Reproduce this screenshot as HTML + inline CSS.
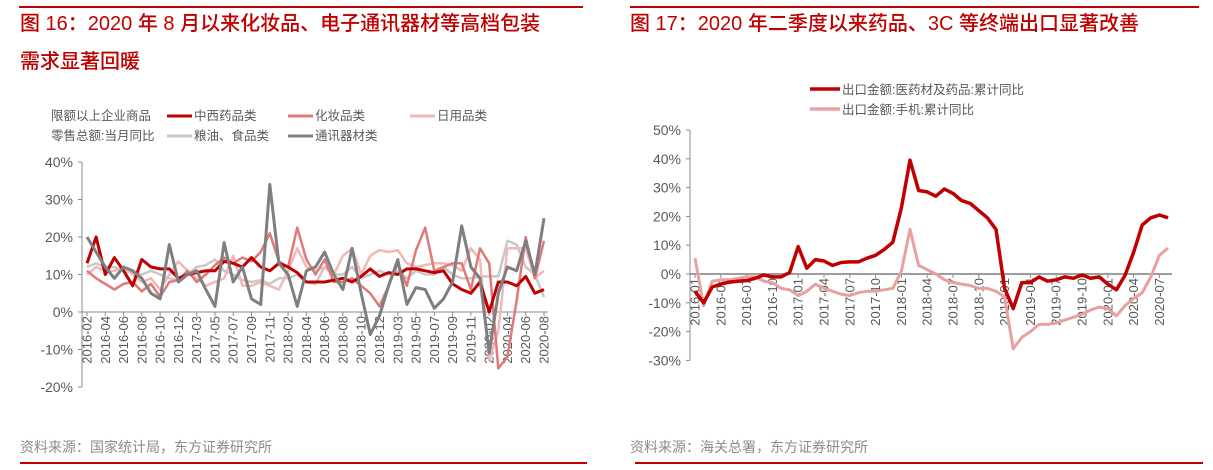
<!DOCTYPE html>
<html><head><meta charset="utf-8"><style>
body{margin:0;background:#fff;width:1213px;height:470px;overflow:hidden;font-family:"Liberation Sans","Noto Sans CJK SC",sans-serif}
svg{position:absolute;left:0;top:0}
</style></head><body>
<svg id="s" width="1213" height="470" xmlns="http://www.w3.org/2000/svg" font-family="Liberation Sans, Noto Sans CJK SC, sans-serif">
<line x1="19" y1="7" x2="583" y2="7" stroke="#c00000" stroke-width="2"/>
<line x1="630" y1="7" x2="1199" y2="7" stroke="#c00000" stroke-width="2"/>
<text x="20" y="30" fill="#c00000" font-size="20" font-weight="500">图 16：2020 年 8 月以来化妆品、电子通讯器材等高档包装</text>
<text x="20" y="68" fill="#c00000" font-size="20" font-weight="500">需求显著回暖</text>
<text x="630" y="30" fill="#c00000" font-size="20" font-weight="500">图 17：2020 年二季度以来药品、3C 等终端出口显著改善</text>
<g font-size="12.5" fill="#595959">
<text x="51" y="120">限额以上企业商品</text>
<text x="51" y="140">零售总额:当月同比</text>
<line x1="167" y1="116" x2="192" y2="116" stroke="#c00000" stroke-width="3"/><text x="194" y="120">中西药品类</text>
<line x1="288" y1="116" x2="313" y2="116" stroke="#e07a7a" stroke-width="3"/><text x="315" y="120">化妆品类</text>
<line x1="410" y1="116" x2="435" y2="116" stroke="#f2b8b8" stroke-width="3"/><text x="437" y="120">日用品类</text>
<line x1="167" y1="136" x2="192" y2="136" stroke="#c8c8c8" stroke-width="3"/><text x="194" y="140">粮油、食品类</text>
<line x1="288" y1="136" x2="313" y2="136" stroke="#7f7f7f" stroke-width="3"/><text x="315" y="140">通讯器材类</text>
</g>
<g font-size="12.5" fill="#595959">
<line x1="810" y1="89" x2="840" y2="89" stroke="#c00000" stroke-width="3.5"/><text x="842" y="94">出口金额:医药材及药品:累计同比</text>
<line x1="810" y1="109" x2="840" y2="109" stroke="#e8a0a0" stroke-width="3.5"/><text x="842" y="114">出口金额:手机:累计同比</text>
</g>
<text x="20" y="452" fill="#8c8c8c" font-size="14">资料来源：国家统计局，东方证券研究所</text>
<text x="630" y="452" fill="#8c8c8c" font-size="14">资料来源：海关总署，东方证券研究所</text>
<line x1="20" y1="463" x2="587" y2="463" stroke="#c00000" stroke-width="2"/>
<line x1="635" y1="463" x2="1203" y2="463" stroke="#c00000" stroke-width="2"/>
<g id="L"></g>
<g id="R"></g>
</svg>
<script>
const leftMonths = (()=>{const a=[];for(let y=2016;y<=2020;y++){const last=y==2020?8:12;for(let m=2;m<=last;m++)a.push(y+'-'+String(m).padStart(2,'0'));}return a;})();
const medicine=[13,20,10,14.5,11,7,14,12,11.5,11.5,9, 10,10.5,11,11,13.5,13,12,14.5,12,11,13, 12,10.5,8,8,8,8.5,9,8,9.5,11.5,9.5, 10.5,10,11.5,11.5,11,10.5,11,7.5,6,5,8, 0,8,8,7,9.5,5,6];
const cosmetics=[11,9,7.5,6,7.5,8,5.5,7.5,4,8,8.5, 11,8,10,12.5,14.5,13,14.5,13.5,16,21,13.5, 12,22.5,14,10,14,8,8,9,7,5,1.5, 7,13,7,16.5,22.5,11,12,13,13,6,17, 13,-15,-12,3,20,9,19];
const daily=[10,12,11,11,12,10,8,9,6,10,13.5, 11,9,7,8,9,15,7,7,8,7,6, 11,17,12,11,12,10,15,17,10,15,16.5, 16,16.5,13,12,12.5,13,13,12.5,11,17,14, -13,-5,17,17,17,9,11];
const food=[12,13,12,12,11,10.5,10,11,10,9,8.5, 10,12,12.5,14,11,10,8.5,8,8.5,7.5,9, 9,10,8,7.5,12,10,10,12,9,10,11, 10,11,9,11,10,10,12,10,9,9,9.5, 9.5,9.5,19,18,12,10,4];
const telecom=[20,16,12,9,12,11,9,5,3.5,18,8, 10,11,6,1.5,18.5,8,12,3.5,2,34,13, 10,1.5,11,12,16,10,6,17,5,-6,-1, 7,14,2,6.5,6,1,3.5,8,23,12,9, -11,5,12,11,19,10,25];
const leftTicks=[40,30,20,10,0,-10,-20];
const rightMonths=(()=>{const a=[];for(let y=2016;y<=2020;y++){const last=y==2020?8:12;for(let m=1;m<=last;m++)a.push(y+'-'+String(m).padStart(2,'0'));}return a;})();
const pharma=[-6,-10,-4.5,-3.5,-2.8,-2.5,-2.3,-1.5,-0.3,-1,-1,0.5, 9.5,2,5,4.5,3,4,4.2,4.2,5.5,6.5,8.5,11, 23,39.5,29,28.5,27,29.5,28,25.5,24.5,22,19.5,15.5, -5,-12,-3,-3,-1,-2.5,-2,-1,-1.5,-0.3,-1.5,-1, -3.5,-5.5,-0.5,7.5,17,19.5,20.5,19.5];
const phone=[5.5,-11,-2.5,-2,-2,-1.5,-1,-1,-2.5,-3,-5,-5.5, -7.5,-6,-3.5,-5,-6,-7,-7.5,-6.5,-6,-6,-5.5,-5, 1,15.5,3,1.5,0,-2,-3,-3.5,-4,-5,-5,-6, -8,-26,-22,-20,-17.5,-17.5,-17,-16,-15,-14,-12.5,-11.5, -12,-14.5,-11,-8.5,-6.5,-1,6.5,9];
const rightTicks=[50,40,30,20,10,0,-10,-20,-30];

const NS='http://www.w3.org/2000/svg';
function mk(parent,tag,attrs){const e=document.createElementNS(NS,tag);for(const k in attrs)e.setAttribute(k,attrs[k]);parent.appendChild(e);return e;}

function chart(g,opt){
  const xs=i=>opt.x0+(opt.x1-opt.x0)*i/(opt.n-1);
  const ys=v=>opt.y0+(opt.yTop-opt.y0)*v/opt.vTop;
  const ax=mk(g,'line',{x1:opt.ax,y1:ys(opt.ticks[0]),x2:opt.ax,y2:ys(opt.ticks[opt.ticks.length-1]),stroke:'#8c8c8c','stroke-width':1});
  
  
  opt.ticks.forEach(t=>{
    mk(g,'line',{x1:opt.ax-4,y1:ys(t),x2:opt.ax,y2:ys(t),stroke:'#8c8c8c'});
    const tx=mk(g,'text',{x:opt.ax-9,y:ys(t)+5,'text-anchor':'end','font-size':14,fill:'#595959'});
    tx.textContent=t+'%';
    
    
  });
  const xa=mk(g,'line',{x1:opt.ax,y1:ys(0),x2:opt.x1+4,y2:ys(0),stroke:opt.zeroColor,'stroke-width':opt.zeroW});
  
  
  opt.labels.forEach((l,i)=>{
    if(i%opt.every!==0)return;
    const x=xs(i);
    mk(g,'line',{x1:x,y1:ys(0),x2:x,y2:ys(0)+4,stroke:'#8c8c8c'});
    const tx=mk(g,'text',{x:0,y:0,'font-size':13,fill:'#595959','text-anchor':'end',transform:`translate(${x+4.5},${ys(0)+4}) rotate(-90)`});
    tx.textContent=l;
    
    
  });
  opt.series.forEach(s=>{
    const p=mk(g,'polyline',{points:s.data.map((v,i)=>xs(i).toFixed(1)+','+ys(v).toFixed(1)).join(' '),fill:'none',stroke:s.color,'stroke-width':s.w,'stroke-linejoin':'round'});
    
    
  });
}
chart(document.getElementById('L'),{x0:87,x1:544,n:leftMonths.length,ax:82,y0:312,yTop:162,vTop:40,ticks:leftTicks,labels:leftMonths,every:2,zeroColor:'#8c8c8c',zeroW:1,
  series:[{name:'line-food',data:food,color:'#c8c8c8',w:2.5},{name:'line-daily',data:daily,color:'#f2b8b8',w:2.5},{name:'line-cosmetics',data:cosmetics,color:'#e07a7a',w:2.5},{name:'line-medicine',data:medicine,color:'#c00000',w:3},{name:'line-telecom',data:telecom,color:'#7f7f7f',w:3}]});
chart(document.getElementById('R'),{x0:695,x1:1168,n:rightMonths.length,ax:690,y0:274,yTop:130,vTop:50,ticks:rightTicks,labels:rightMonths,every:3,zeroColor:'#7f7f7f',zeroW:1.5,
  series:[{name:'line-phone-export',data:phone,color:'#e8a0a0',w:3},{name:'line-pharma-export',data:pharma,color:'#c00000',w:3.5}]});
</script>
</body></html>
